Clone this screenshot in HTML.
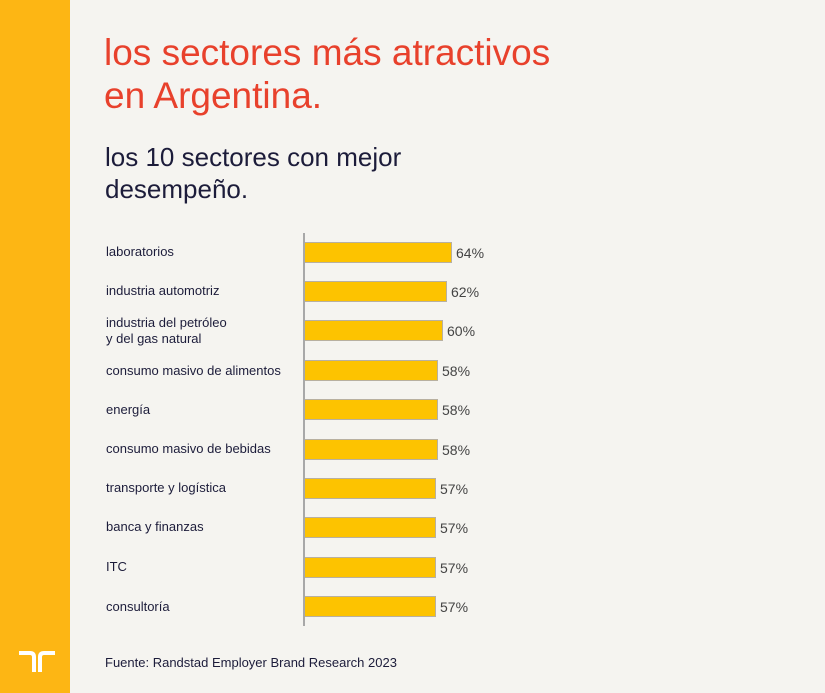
<!DOCTYPE html>
<html><head><meta charset="utf-8"><style>
body{margin:0;width:825px;height:693px;background:#f5f4f0;position:relative;overflow:hidden;font-family:"Liberation Sans",sans-serif}
.side{position:absolute;left:0;top:0;width:70px;height:693px;background:#fdb614}
.t{position:absolute;left:104px;top:31px;color:#e8412c;font-size:37px;line-height:43px}
.s{position:absolute;left:105px;top:141px;color:#1c1c3a;font-size:26px;line-height:32px}
.l{position:absolute;left:106px;color:#1c1c3a;font-size:13px;line-height:16px}
.b{position:absolute;left:305px;height:19px;background:#fdc300;border:1px solid #b8b0a0;border-left:none}
.v{position:absolute;color:#444;font-size:14px}
.f{position:absolute;left:105px;top:655px;font-size:13px;color:#1c1c3a}
</style></head><body>
<div class="side"></div>
<svg style="position:absolute;left:17px;top:651px" width="40" height="22"><path d="M2 2 H13 Q17 2 17 6 V21 M38 2 H27 Q23 2 23 6 V21" fill="none" stroke="#fff" stroke-width="4"/></svg>
<div class="t">los sectores más atractivos<br>en Argentina.</div>
<div class="s">los 10 sectores con mejor<br>desempeño.</div>
<div style="position:absolute;left:303px;top:233px;width:2px;height:393px;background:#a8a8a8"></div>
<div class="l" style="top:244px">laboratorios</div>
<div class="l" style="top:283px">industria automotriz</div>
<div class="l" style="top:315px">industria del petróleo<br>y del gas natural</div>
<div class="l" style="top:363px">consumo masivo de alimentos</div>
<div class="l" style="top:402px">energía</div>
<div class="l" style="top:441px">consumo masivo de bebidas</div>
<div class="l" style="top:480px">transporte y logística</div>
<div class="l" style="top:519px">banca y finanzas</div>
<div class="l" style="top:559px">ITC</div>
<div class="l" style="top:599px">consultoría</div>
<div class="b" style="top:242px;width:146px"></div><div class="v" style="left:456px;top:245px">64%</div>
<div class="b" style="top:281px;width:141px"></div><div class="v" style="left:451px;top:284px">62%</div>
<div class="b" style="top:320px;width:137px"></div><div class="v" style="left:447px;top:323px">60%</div>
<div class="b" style="top:360px;width:132px"></div><div class="v" style="left:442px;top:363px">58%</div>
<div class="b" style="top:399px;width:132px"></div><div class="v" style="left:442px;top:402px">58%</div>
<div class="b" style="top:439px;width:132px"></div><div class="v" style="left:442px;top:442px">58%</div>
<div class="b" style="top:478px;width:130px"></div><div class="v" style="left:440px;top:481px">57%</div>
<div class="b" style="top:517px;width:130px"></div><div class="v" style="left:440px;top:520px">57%</div>
<div class="b" style="top:557px;width:130px"></div><div class="v" style="left:440px;top:560px">57%</div>
<div class="b" style="top:596px;width:130px"></div><div class="v" style="left:440px;top:599px">57%</div>
<div class="f">Fuente: Randstad Employer Brand Research 2023</div>
</body></html>
